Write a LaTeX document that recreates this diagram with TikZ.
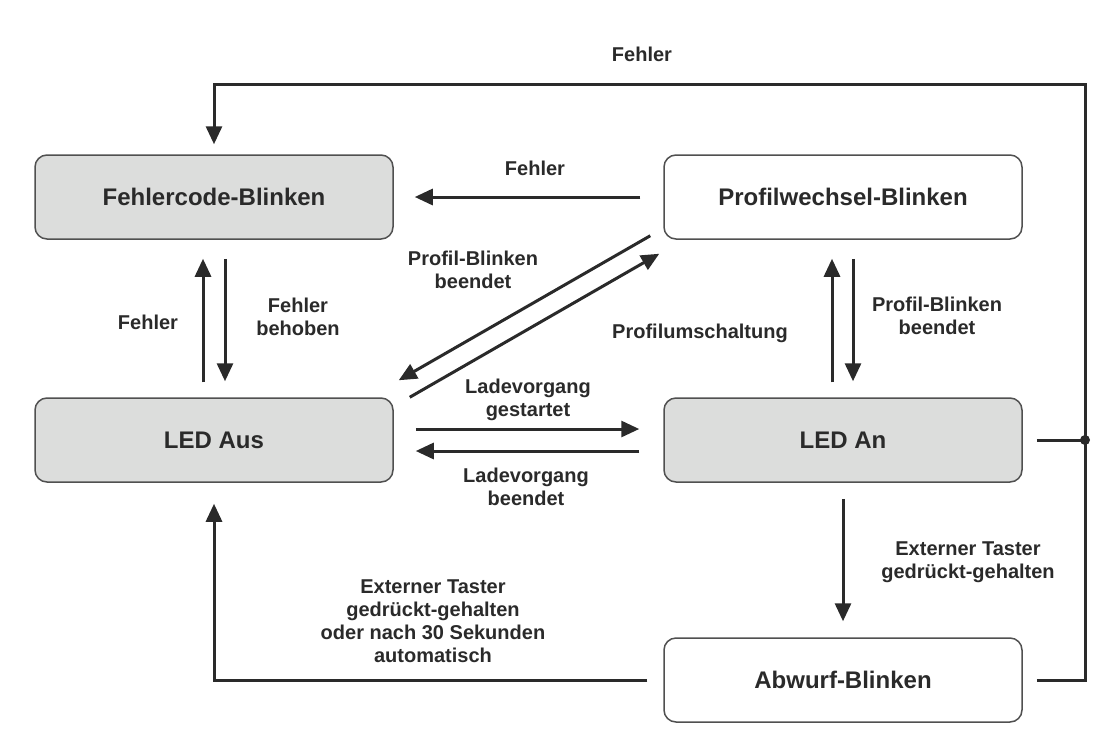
\documentclass[tikz,border=0pt]{standalone}
\usepackage{fontspec}
\setmainfont{Liberation Sans}
\usetikzlibrary{arrows.meta}
\definecolor{boxgray}{HTML}{DCDDDC}
\definecolor{ink}{HTML}{2A2A2A}
\definecolor{frame}{HTML}{505050}
\begin{document}
\begin{tikzpicture}[x=1pt,y=-1pt,
  state/.style={draw=frame, line width=1.5pt, rounded corners=12pt,
    minimum width=358pt, minimum height=84pt, inner sep=0pt,
    font=\fontsize{24}{28}\selectfont\bfseries, text=ink},
  active/.style={state, fill=boxgray},
  idle/.style={state, fill=white},
  lbl/.style={font=\fontsize{20}{23}\selectfont\bfseries, text=ink,
    align=center, inner sep=0pt},
  link/.style={draw=ink, line width=3pt},
  arr/.style={link, -{Triangle[length=18pt,width=16pt]}},
]
\useasboundingbox (0,0) rectangle (1103,737);

% states
\node[active] (fc)  at (214,197) {Fehlercode-Blinken};
\node[idle]   (pw)  at (843,197) {Profilwechsel-Blinken};
\node[active] (aus) at (214,440) {LED Aus};
\node[active] (an)  at (843,440) {LED An};
\node[idle]   (abw) at (843,680) {Abwurf-Blinken};

% helper points of the error loop on the right
\coordinate (jn) at (1085,440);
\coordinate (tr) at (1085,84);

% Fehlercode-Blinken <-> LED Aus
\draw[arr, shorten <=15pt, shorten >=19pt] ([xshift=-11pt]aus.north) -- ([xshift=-11pt]fc.south);
\draw[arr, shorten <=19pt, shorten >=16pt] ([xshift=11pt]fc.south) -- ([xshift=11pt]aus.north);

% Profilwechsel-Blinken <-> LED An
\draw[arr, shorten <=15pt, shorten >=19pt] ([xshift=-11pt]an.north) -- ([xshift=-11pt]pw.south);
\draw[arr, shorten <=19pt, shorten >=16pt] ([xshift=10pt]pw.south) -- ([xshift=10pt]an.north);

% Profilwechsel-Blinken -> Fehlercode-Blinken
\draw[arr, shorten <=23pt, shorten >=21pt] (pw.west) -- (fc.east);

% diagonals between LED Aus and Profilwechsel-Blinken
\draw[arr] ([shift={(-13,-4)}]pw.south west) -- ([shift={(5,-17)}]aus.north east);
\draw[arr] ([shift={(16,0)}]aus.north east) -- ([shift={(-4,14)}]pw.south west);

% LED Aus <-> LED An
\draw[arr, shorten <=22pt, shorten >=24pt] ([yshift=11pt]aus.east) -- ([yshift=11pt]an.west);
\draw[arr, shorten <=24pt, shorten >=22pt] ([yshift=-11pt]an.west) -- ([yshift=-11pt]aus.east);

% LED An -> Abwurf-Blinken
\draw[arr, shorten <=16pt, shorten >=16pt] (an.south) -- (abw.north);

% Abwurf-Blinken -> LED Aus
\draw[arr, shorten >=21pt] ([xshift=-16pt]abw.west) -| (aus.south);

% error loop back to Fehlercode-Blinken
\draw[link] ([xshift=14pt]an.east) -- (jn);
\fill[ink] (jn) circle (5pt);
\draw[arr, shorten >=10pt] ([xshift=14pt]abw.east) -| (tr) -| (fc.north);

% transition labels
\node[lbl] (l1)  at (642,54)  {Fehler};
\node[lbl] (l2)  at (535,168) {Fehler};
\node[lbl] (l3)  at (148,322) {Fehler};
\node[lbl] (l4)  at (298,317) {Fehler\\behoben};
\node[lbl] (l5)  at (473,270) {Profil-Blinken\\beendet};
\node[lbl] (l6)  at (700,333) {Profilumschaltung};
\node[lbl] (l7)  at (937,316) {Profil-Blinken\\beendet};
\node[lbl] (l8)  at (528,400) {Ladevorgang\\gestartet};
\node[lbl] (l9)  at (526,487) {Ladevorgang\\beendet};
\node[lbl] (l10) at (968,562) {Externer Taster\\gedrückt-gehalten};
\node[lbl] (l11) at (433,621) {Externer Taster\\gedrückt-gehalten\\oder nach 30 Sekunden\\automatisch};
\end{tikzpicture}
\end{document}
